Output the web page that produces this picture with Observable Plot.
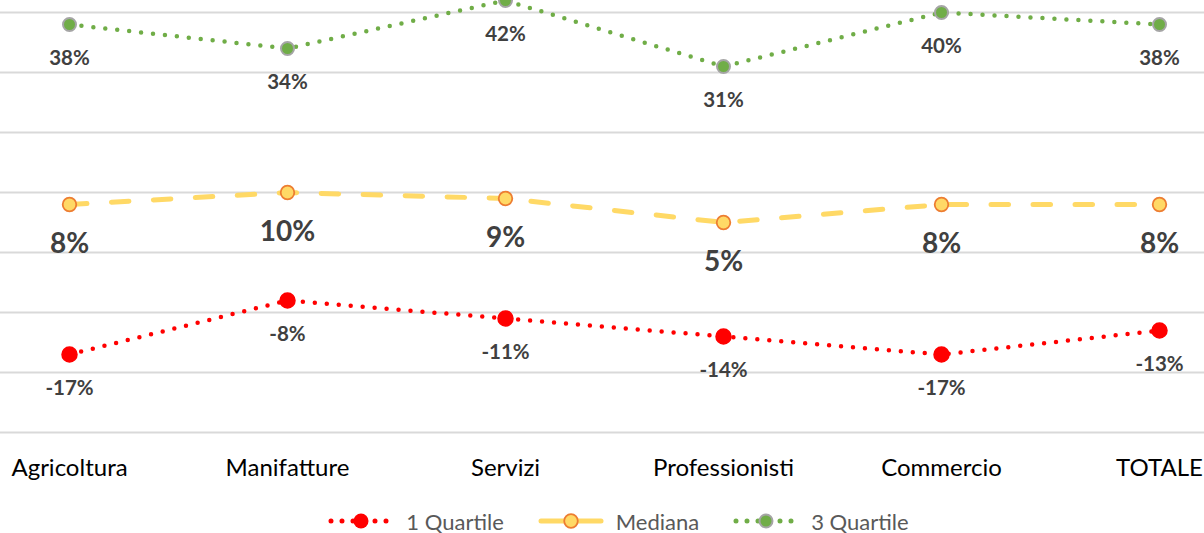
<!DOCTYPE html>
<html><head><meta charset="utf-8">
<script src="https://cdn.jsdelivr.net/npm/d3@7"></script>
<script src="https://cdn.jsdelivr.net/npm/@observablehq/plot@0.6"></script>
<style>
body{margin:0;background:#fff;font-family:Lato,"Open Sans",sans-serif;overflow:hidden}
#legend{display:flex;justify-content:center;align-items:center;height:40px;margin-top:8px;padding-left:33px;color:#595959;font-size:22px}
.item{display:flex;align-items:center;margin:0 17px}
.item svg{margin-right:12px}
</style></head>
<body><div id="chart"></div><div id="legend"></div>
<script>
const categories = ["Agricoltura","Manifatture","Servizi","Professionisti","Commercio","TOTALE"];
const q1 = [-17,-8,-11,-14,-17,-13];
const median = [8,10,9,5,8,8];
const q3 = [38,34,42,31,40,38];
const gridTicks = [-30,-20,-10,0,10,20,30,40];
const seriesNames = ["1 Quartile","Mediana","3 Quartile"];

const rows = (vals) => categories.map((c,i)=>({cat:c, v:vals[i]}));
const dq1 = rows(q1), dmed = rows(median), dq3 = rows(q3);
const fmt = d => d.v + "%";
const labelColor = "#404040";

const W = 1204, H = 493, ML = 68, MR = 44;
const chart = Plot.plot({
  width: W, height: H,
  marginLeft: ML, marginRight: MR, marginTop: 0, marginBottom: H-432,
  style: {fontFamily: "Lato, 'Open Sans', sans-serif", background: "#fff"},
  x: {type: "point", domain: categories, padding: 0, label: null},
  y: {domain: [-30, 42], axis: null},
  marks: [
    Plot.ruleY(gridTicks, {stroke: "#d9d9d9", strokeWidth: 2, insetLeft: -ML, insetRight: -MR}),
    Plot.axisX({tickSize: 0, tickPadding: 26, fontSize: 24, color: "#000", label: null}),
    Plot.line(dq3, {x: "cat", y: "v", stroke: "#70AD47", strokeWidth: 4.5, strokeDasharray: "0,12", strokeLinecap: "round"}),
    Plot.line(dmed, {x: "cat", y: "v", stroke: "#FFD966", strokeWidth: 5, strokeDasharray: "17.5,24.5", strokeLinecap: "round"}),
    Plot.line(dq1, {x: "cat", y: "v", stroke: "#FF0000", strokeWidth: 4.5, strokeDasharray: "0,12", strokeLinecap: "round"}),
    Plot.dot(dq3, {x: "cat", y: "v", r: 6.5, fill: "#70AD47", stroke: "#A5A5A5", strokeWidth: 2}),
    Plot.dot(dmed, {x: "cat", y: "v", r: 6.8, fill: "#FFD966", stroke: "#ED7D31", strokeWidth: 1.8}),
    Plot.dot(dq1, {x: "cat", y: "v", r: 7.5, fill: "#FF0000", stroke: "#FF0000"}),
    Plot.text(dq3, {x: "cat", y: "v", text: fmt, dy: 34, fontSize: 20.5, fontWeight: "bold", fill: labelColor}),
    Plot.text(dmed, {x: "cat", y: "v", text: fmt, dy: 40, fontSize: 28, fontWeight: "bold", fill: labelColor}),
    Plot.text(dq1, {x: "cat", y: "v", text: fmt, dy: 34, fontSize: 20.5, fontWeight: "bold", fill: labelColor})
  ]
});
document.getElementById("chart").append(chart);

// Legend
const legendSpecs = [
  {name: seriesNames[0], line: "#FF0000", dash: "0,11", fill: "#FF0000", stroke: "#FF0000", r: 7.5, sw: 0},
  {name: seriesNames[1], line: "#FFD966", dash: null, fill: "#FFD966", stroke: "#ED7D31", r: 6.8, sw: 1.8},
  {name: seriesNames[2], line: "#70AD47", dash: "0,11", fill: "#70AD47", stroke: "#A5A5A5", r: 6.5, sw: 2}
];
const leg = d3.select("#legend");
legendSpecs.forEach(s => {
  const it = leg.append("div").attr("class","item");
  const svg = it.append("svg").attr("width", 66).attr("height", 20);
  svg.append("line").attr("x1", 0.5 + 2.5).attr("x2", 66 - 3).attr("y1", 10).attr("y2", 10)
    .attr("stroke", s.line).attr("stroke-width", 5).attr("stroke-linecap","round")
    .attr("stroke-dasharray", s.dash);
  svg.append("circle").attr("cx", 33).attr("cy", 10).attr("r", s.r)
    .attr("fill", s.fill).attr("stroke", s.stroke).attr("stroke-width", s.sw);
  it.append("span").text(s.name);
});
</script></body></html>
